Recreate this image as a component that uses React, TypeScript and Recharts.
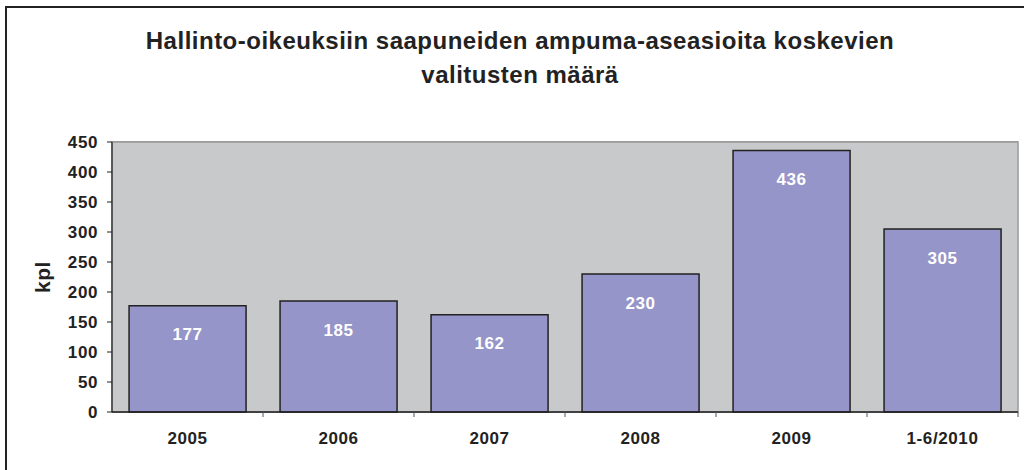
import React from "react";
import { BarChart, Bar, XAxis, YAxis, CartesianGrid, LabelList, Label } from "recharts";

const categories = ["2005", "2006", "2007", "2008", "2009", "1-6/2010"];
const values = [177, 185, 162, 230, 436, 305];
const yTicks = [0, 50, 100, 150, 200, 250, 300, 350, 400, 450];
const titleLines = [
  "Hallinto-oikeuksiin saapuneiden ampuma-aseasioita koskevien",
  "valitusten määrä",
];
const yAxisTitle = "kpl";

const data = categories.map((c, i) => ({ name: c, value: values[i] }));

const FONT = "'Liberation Sans', Arial, sans-serif";
const PLOT_LEFT = 112;
const PLOT_RIGHT = 1018;
const BAND = (PLOT_RIGHT - PLOT_LEFT) / categories.length;

const ValueLabel = (props: any) => {
  const { x, y, width, value } = props;
  return (
    <text
      x={x + width / 2}
      y={y + 29}
      textAnchor="middle"
      dominantBaseline="central"
      fill="#ffffff"
      fontFamily={FONT}
      fontWeight="bold"
      fontSize={17}
      letterSpacing={0.6}
    >
      {value}
    </text>
  );
};

const XTick = (props: any) => {
  const { x, y, payload } = props;
  return (
    <g>
      <line x1={x + BAND / 2} x2={x + BAND / 2} y1={y - 20} y2={y - 15} stroke="#555" strokeWidth={1} />
      <text
        x={x}
        y={y}
        dy={12}
        textAnchor="middle"
        fill="#222"
        fontFamily={FONT}
        fontWeight="bold"
        fontSize={17}
        letterSpacing={0.6}
      >
        {payload.value}
      </text>
    </g>
  );
};

export default function App() {
  return (
    <div
      style={{
        position: "fixed",
        left: 0,
        top: 0,
        width: 1024,
        height: 470,
        overflow: "hidden",
        background: "#ffffff",
      }}
    >
      <div
        style={{
          position: "absolute",
          left: 5,
          top: 6,
          width: 1100,
          height: 600,
          border: "2px solid #222",
          boxSizing: "border-box",
        }}
      />
      <svg
        width={1024}
        height={120}
        style={{ position: "absolute", left: 0, top: 0 }}
      >
        {titleLines.map((t, i) => (
          <text
            key={i}
            x={520}
            y={49 + i * 34}
            textAnchor="middle"
            fontFamily={FONT}
            fontWeight="bold"
            fontSize={24}
            fill="#222"
            letterSpacing={0.5}
          >
            {t}
          </text>
        ))}
      </svg>
      <div style={{ position: "absolute", left: 0, top: 0 }}>
        <BarChart
          width={1024}
          height={470}
          data={data}
          margin={{ top: 142, right: 6, bottom: 0, left: 0 }}
          barCategoryGap="11.3%"
        >
          <rect x={PLOT_LEFT} y={142} width={PLOT_RIGHT - PLOT_LEFT} height={270} fill="#c8c9ca" stroke="#999" strokeWidth={1.5} />
          <CartesianGrid vertical={false} stroke="#3a3a3a" strokeWidth={1.2} fill="none" />
          <XAxis
            dataKey="name"
            height={58}
            axisLine={{ stroke: "#222", strokeWidth: 1.5 }}
            tickLine={false}
            tickSize={0}
            tickMargin={20}
            interval={0}
            tick={<XTick />}
          />
          <YAxis
            width={112}
            domain={[0, 450]}
            ticks={yTicks}
            interval={0}
            axisLine={{ stroke: "#222", strokeWidth: 1.2 }}
            tickLine={{ stroke: "#222" }}
            tickSize={5}
            tickMargin={9}
            tick={{ fill: "#222", fontFamily: FONT, fontWeight: "bold", fontSize: 17, letterSpacing: 0.6 } as any}
          >
            <Label
              value={yAxisTitle}
              angle={-90}
              position="insideLeft"
              offset={43}
              style={{ fill: "#222", fontFamily: FONT, fontWeight: "bold", fontSize: 21, letterSpacing: 0.5, textAnchor: "middle" }}
            />
          </YAxis>
          <Bar dataKey="value" fill="#9595c9" stroke="#222" strokeWidth={1.5} isAnimationActive={false}>
            <LabelList dataKey="value" content={ValueLabel} />
          </Bar>
        </BarChart>
      </div>
    </div>
  );
}
